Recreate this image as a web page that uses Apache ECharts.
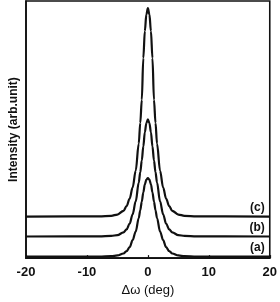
<!DOCTYPE html>
<html>
<head>
<meta charset="utf-8">
<script src="https://cdn.jsdelivr.net/npm/echarts@6/dist/echarts.min.js"></script>
<style>html,body{margin:0;padding:0;background:#fff}#c{width:280px;height:302px}</style>
</head>
<body>
<div id="c"></div>
<script>
// Δω (deg) sample positions
const omega = [-20,-8,-6,-5,-4,-3.5,-3,-2.5,-2,-1.5,-1.25,-1,-0.75,-0.5,-0.25,0,0.25,0.5,0.75,1,1.25,1.5,2,2.5,3,3.5,4,5,6,8,20];
// Intensity (arb. unit)
const curveA = [1.5,1.6,2.0,2.7,4.7,7.1,11.1,18.3,27.1,40.7,48.7,57.5,67.1,75.1,79.9,81.5,79.9,75.1,67.1,57.5,48.7,40.7,27.1,18.3,11.1,7.1,4.7,2.7,2.0,1.6,1.5];
const curveB = [22,22.1,22.6,23.4,26.2,29.2,35.1,44.7,57.8,76.9,87.6,99.5,113.9,128.2,137.7,141.3,137.7,128.2,113.9,99.5,87.6,76.9,57.8,44.7,35.1,29.2,26.2,23.4,22.6,22.1,22];
const curveC = [42.3,42.5,43.1,44.4,48.2,52.9,60.4,72.0,89.0,116.6,137.9,161.2,203.7,231.3,248.3,254.7,248.3,231.3,203.7,161.2,137.9,116.6,89.0,72.0,60.4,52.9,48.2,44.4,43.1,42.5,42.3];
const curveNames = ['(a)','(b)','(c)'];
const xTicks = [-20,-10,0,10,20];

const FONT = '"Liberation Sans", Arial, sans-serif';
const chart = echarts.init(document.getElementById('c'), null, {renderer:'canvas'});
function mk(name, vals){
  return {
    type:'line', name:name,
    data: omega.map((x,i)=>[x, vals[i]]),
    showSymbol:false, smooth:0.35, smoothMonotone:'x',
    lineStyle:{color:'#111', width:2.2},
    endLabel:{show:true, formatter:name, color:'#111', fontFamily:FONT, fontWeight:'bold', fontSize:12,
      align:'right', verticalAlign:'middle', offset:[-13,-9]},
    animation:false, z:3
  };
}
chart.setOption({
  animation:false,
  grid:{left:23, right:7, top:1, bottom:39, show:true, borderColor:'#111', borderWidth:1.6, containLabel:false},
  xAxis:{
    type:'value', min:xTicks[0], max:xTicks[xTicks.length-1], interval:10,
    name:'\u0394\u03c9 (deg)', nameLocation:'middle', nameGap:22,
    nameTextStyle:{fontFamily:FONT, fontSize:13, color:'#111'},
    axisLine:{show:true, onZero:false, lineStyle:{color:'#111', width:1.6}},
    axisTick:{show:true, inside:true, length:3, lineStyle:{color:'#111', width:1.2}},
    axisLabel:{fontFamily:FONT, fontSize:13, fontWeight:'bold', color:'#111', margin:8},
    splitLine:{show:false}
  },
  yAxis:{
    type:'value', min:0, max:262,
    name:'Intensity (arb.unit)', nameLocation:'middle', nameGap:6,
    nameTextStyle:{fontFamily:FONT, fontSize:12, fontWeight:'bold', color:'#111'},
    axisLine:{show:true, onZero:false, lineStyle:{color:'#111', width:1.6}},
    axisTick:{show:false}, axisLabel:{show:false}, splitLine:{show:false}
  },
  series:[mk(curveNames[0], curveA), mk(curveNames[1], curveB), mk(curveNames[2], curveC)]
});
</script>
</body>
</html>
